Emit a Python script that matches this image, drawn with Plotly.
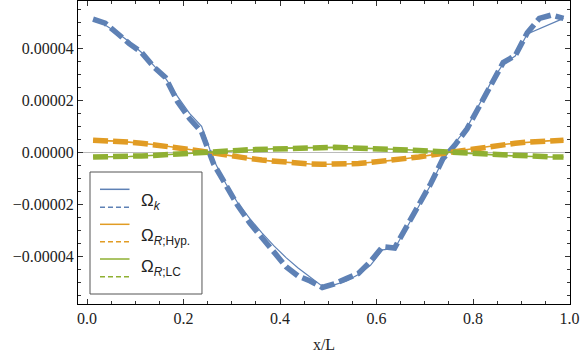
import plotly.graph_objects as go

# sample positions (bin centres)
x_pos = [0.0125, 0.0375, 0.0625, 0.0875, 0.1125, 0.1375, 0.1625, 0.1875, 0.2125, 0.2375,
         0.2625, 0.2875, 0.3125, 0.3375, 0.3625, 0.3875, 0.4125, 0.4375, 0.4625, 0.4875,
         0.5125, 0.5375, 0.5625, 0.5875, 0.6125, 0.6375, 0.6625, 0.6875, 0.7125, 0.7375,
         0.7625, 0.7875, 0.8125, 0.8375, 0.8625, 0.8875, 0.9125, 0.9375, 0.9625, 0.9875]

# values in units of 1e-5
omega_k = [5.10, 4.90, 4.60, 4.25, 3.85, 3.35, 2.85, 2.15, 1.50, 1.00,
           -0.30, -1.20, -1.95, -2.55, -3.10, -3.60, -4.05, -4.45, -4.80, -5.15,
           -5.10, -4.95, -4.70, -4.35, -3.75, -3.70, -2.90, -2.10, -1.25, -0.30,
           0.35, 0.95, 1.80, 2.70, 3.40, 3.70, 4.55, 4.75, 4.95, 5.15]
omega_k_fit = [5.12, 4.97, 4.58, 4.18, 3.85, 3.30, 2.88, 1.95, 1.30, 0.78,
               -0.45, -1.30, -2.05, -2.72, -3.27, -3.85, -4.40, -4.76, -4.95, -5.20,
               -5.06, -4.86, -4.66, -4.20, -3.63, -3.68, -2.85, -2.05, -1.20, -0.25,
               0.28, 0.90, 1.78, 2.68, 3.45, 3.72, 4.60, 5.15, 5.28, 5.15]
omega_hyp = [0.46, 0.45, 0.43, 0.39, 0.35, 0.30, 0.24, 0.18, 0.11, 0.04,
             -0.04, -0.11, -0.18, -0.24, -0.30, -0.35, -0.39, -0.43, -0.45, -0.46,
             -0.46, -0.45, -0.43, -0.39, -0.35, -0.30, -0.24, -0.18, -0.11, -0.04,
             0.04, 0.11, 0.18, 0.24, 0.30, 0.35, 0.39, 0.43, 0.45, 0.46]
omega_lc = [-0.18, -0.18, -0.17, -0.16, -0.14, -0.12, -0.10, -0.07, -0.04, -0.015,
            0.015, 0.04, 0.07, 0.10, 0.12, 0.14, 0.16, 0.17, 0.18, 0.19,
            0.19, 0.18, 0.17, 0.16, 0.14, 0.12, 0.10, 0.07, 0.04, 0.015,
            -0.015, -0.04, -0.07, -0.10, -0.12, -0.14, -0.16, -0.17, -0.18, -0.18]

x_ticks = [0.0, 0.2, 0.4, 0.6, 0.8, 1.0]
x_ticktext = ["0.0", "0.2", "0.4", "0.6", "0.8", "1.0"]
y_ticks = [-4e-5, -2e-5, 0.0, 2e-5, 4e-5]
y_ticktext = ["\u22120.00004", "\u22120.00002", "0.00000", "0.00002", "0.00004"]

labels = ["\u03a9<sub><i>k</i></sub>", "\u03a9<sub><i>R</i>;Hyp.</sub>", "\u03a9<sub><i>R</i>;LC</sub>"]
colors = ["#5e81b5", "#e19c24", "#8fb032"]

scale = 1e-5
series = [(omega_k, omega_k_fit), (omega_hyp, omega_hyp), (omega_lc, omega_lc)]
solid_width = [1.2, 1.6, 1.6]

serif = dict(family="Liberation Serif", size=16, color="#222222")

fig = go.Figure()
for (solid, dashed), c, w in zip(series, colors, solid_width):
    fig.add_trace(go.Scatter(x=x_pos, y=[v * scale for v in solid], mode="lines",
                             line=dict(color=c, width=w), showlegend=False))
    fig.add_trace(go.Scatter(x=x_pos, y=[v * scale for v in dashed], mode="lines",
                             line=dict(color=c, width=5.5, dash="15px,5px"), showlegend=False))

# hand-made legend (label sits between solid and dashed sample)
fig.add_shape(type="rect", xref="paper", yref="paper", x0=0.0244, x1=0.252, y0=0.033, y1=0.4356,
              line=dict(color="#555555", width=1), fillcolor="white", layer="above")
solid_y = [0.3785, 0.263, 0.1485]
dashed_y = [0.3191, 0.2056, 0.0901]
label_y = [0.3376, 0.2221, 0.1188]
for c, ys, yd, yl, lab in zip(colors, solid_y, dashed_y, label_y, labels):
    fig.add_shape(type="line", xref="paper", yref="paper", x0=0.0447, x1=0.1047, y0=ys, y1=ys,
                  line=dict(color=c, width=1.5), layer="above")
    fig.add_shape(type="line", xref="paper", yref="paper", x0=0.0447, x1=0.1047, y0=yd, y1=yd,
                  line=dict(color=c, width=1.5, dash="5px,3px"), layer="above")
    fig.add_annotation(xref="paper", yref="paper", x=0.124, y=yl, text=lab, showarrow=False,
                       xanchor="left", yanchor="middle",
                       font=dict(family="Liberation Sans", size=17, color="#222222"))

axis_common = dict(showline=True, linecolor="#000000", linewidth=1, mirror="ticks",
                   ticks="inside", ticklen=5, tickcolor="#333333", showgrid=False,
                   tickfont=serif)

fig.update_xaxes(range=[-0.0187, 1.001], tickvals=x_ticks, ticktext=x_ticktext,
                 minor=dict(dtick=0.05, ticks="inside", ticklen=3, tickcolor="#333333"),
                 zeroline=False, title=dict(text="x/L", standoff=12, font=serif), **axis_common)
fig.update_yaxes(range=[-5.835e-5, 5.82e-5], tickvals=y_ticks, ticktext=y_ticktext,
                 minor=dict(dtick=5e-6, ticks="inside", ticklen=3, tickcolor="#333333"),
                 zeroline=True, zerolinecolor="#bbbbbb", zerolinewidth=1, **axis_common)

fig.update_layout(width=581, height=356, margin=dict(l=78, r=11, t=1, b=52),
                  plot_bgcolor="white", paper_bgcolor="white")

# the page body has a default 8px margin; drop it so the figure sits at the corner
fig.write_html("out.html", config={"displayModeBar": False},
               post_script="document.body.style.margin='0';document.body.style.overflow='hidden';")
